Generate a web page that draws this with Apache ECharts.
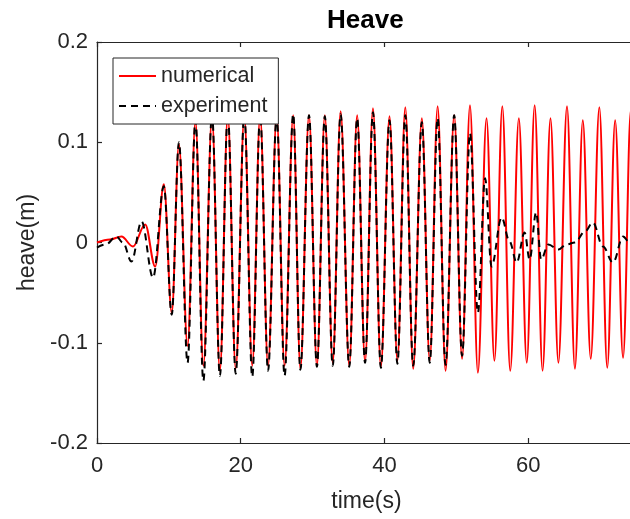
<!DOCTYPE html>
<html>
<head>
<meta charset="utf-8">
<script src="https://cdn.jsdelivr.net/npm/echarts@6/dist/echarts.min.js"></script>
<style>
html,body{margin:0;padding:0;background:#fff;}
#chart{width:630px;height:519px;}
</style>
</head>
<body>
<div id="chart"></div>
<script>
// Numerical (red solid): turning points
const numTime = [0, 1.8, 3.4, 5.0, 6.7, 8.1, 9.3, 10.4, 11.4, 12.6, 13.7, 14.8,
  16.0, 17.1, 18.2, 19.3, 20.5, 21.6, 22.7, 23.8, 25.0, 26.1, 27.3, 28.3, 29.5, 30.6,
  31.7, 32.8, 33.9, 35.1, 36.2, 37.3, 38.4, 39.5, 40.7, 41.8, 42.9, 44.0, 45.2, 46.3,
  47.4, 48.5, 49.7, 50.8, 51.9, 53.0, 54.2, 55.3, 56.4, 57.5, 58.7, 59.8, 60.9, 62.0,
  63.1, 64.2, 65.4, 66.5, 67.6, 68.7, 69.9, 71.0, 72.1, 73.2, 74.3, 75.4];
const numHeave = [0.000, 0.003, 0.006, -0.004, 0.018, -0.024, 0.058, -0.070, 0.098, -0.103, 0.121, -0.123,
  0.125, -0.128, 0.127, -0.126, 0.126, -0.123, 0.127, -0.123, 0.126, -0.123, 0.127, -0.126, 0.127, -0.123,
  0.127, -0.120, 0.131, -0.123, 0.127, -0.119, 0.134, -0.124, 0.126, -0.118, 0.135, -0.126, 0.124, -0.118,
  0.136, -0.128, 0.127, -0.116, 0.137, -0.130, 0.124, -0.118, 0.136, -0.128, 0.124, -0.120, 0.137, -0.128,
  0.124, -0.120, 0.136, -0.126, 0.122, -0.116, 0.135, -0.125, 0.122, -0.115, 0.133, -0.125];

// Experiment (black dashed): turning points
const expTime = [0, 1.2, 2.7, 3.6, 4.8, 6.2, 7.8, 9.3, 10.4, 11.4, 12.6, 13.7, 14.8,
  16.0, 17.1, 18.2, 19.3, 20.5, 21.6, 22.7, 23.8, 25.0, 26.1, 27.3, 28.3, 29.5, 30.6,
  31.7, 32.8, 33.9, 35.1, 36.2, 37.3, 38.4, 39.5, 40.7, 41.8, 42.9, 44.0, 45.2, 46.3,
  47.4, 48.5, 49.7, 50.8, 51.9, 53.0, 54.0, 54.9, 56.3, 57.4, 58.4, 59.5, 60.2, 61.1,
  61.8, 62.8, 64.2, 65.3, 66.5, 67.9, 69.0, 70.4, 71.8, 73.2, 74.1, 75.0];
const expHeave = [-0.005, -0.002, 0.006, 0.000, -0.019, 0.021, -0.035, 0.056, -0.072, 0.100, -0.120, 0.122, -0.138,
  0.128, -0.133, 0.128, -0.131, 0.127, -0.134, 0.127, -0.128, 0.126, -0.133, 0.128, -0.127, 0.127, -0.124,
  0.126, -0.123, 0.128, -0.124, 0.124, -0.120, 0.130, -0.125, 0.122, -0.121, 0.127, -0.123, 0.120, -0.120,
  0.124, -0.122, 0.127, -0.113, 0.109, -0.070, 0.064, -0.024, 0.025, 0.001, -0.020, 0.010, -0.017, 0.030,
  -0.017, -0.002, -0.007, -0.002, 0.000, 0.011, 0.020, -0.004, -0.020, 0.006, 0.000, 0.004];

const xTicks = [0, 20, 40, 60];
const yTicks = [-0.2, -0.1, 0, 0.1, 0.2];

const zip = (a, b) => a.map((t, i) => [t, b[i]]);
const axisCol = '#262626';
const font = 'Liberation Sans, Arial, Helvetica, sans-serif';

const chart = echarts.init(document.getElementById('chart'), null, {renderer: 'canvas'});
chart.setOption({
  animation: false,
  backgroundColor: '#fff',
  textStyle: {fontFamily: font},
  title: {
    text: 'Heave', left: 327, top: 8, padding: 0,
    textStyle: {fontFamily: font, fontWeight: 'bold', fontSize: 26, color: '#000'}
  },
  grid: {left: 97, top: 42, width: 539, height: 401, containLabel: false, outerBoundsMode: 'none'},
  legend: {
    data: ['numerical', 'experiment'],
    orient: 'vertical', left: 113, top: 58,
    padding: [7, 11, 7, 5], itemGap: 8, itemWidth: 37, itemHeight: 20,
    backgroundColor: '#fff', borderColor: axisCol, borderWidth: 1,
    itemStyle: {opacity: 0},
    textStyle: {fontFamily: font, fontSize: 21.5, color: axisCol}
  },
  xAxis: [{
    type: 'value', min: xTicks[0], max: 75, interval: xTicks[1] - xTicks[0],
    name: 'time(s)', nameLocation: 'middle', nameGap: 47,
    nameTextStyle: {fontFamily: font, fontSize: 23, color: axisCol},
    axisLine: {show: true, onZero: false, lineStyle: {color: axisCol, width: 1.2}},
    axisTick: {show: true, inside: true, length: 5, lineStyle: {color: axisCol, width: 1.2}},
    axisLabel: {fontFamily: font, fontSize: 22, color: axisCol, margin: 12,
      formatter: v => xTicks.includes(v) ? String(v) : ''},
    splitLine: {show: false}
  }, {
    type: 'value', position: 'top', min: xTicks[0], max: 75, interval: xTicks[1] - xTicks[0],
    axisLine: {show: true, onZero: false, lineStyle: {color: axisCol, width: 1.2}},
    axisTick: {show: true, inside: true, length: 5, lineStyle: {color: axisCol, width: 1.2}},
    axisLabel: {show: false}, splitLine: {show: false}
  }],
  yAxis: {
    type: 'value', min: yTicks[0], max: yTicks[yTicks.length - 1], interval: 0.1,
    name: 'heave(m)', nameLocation: 'middle', nameGap: 58,
    nameTextStyle: {fontFamily: font, fontSize: 23, color: axisCol},
    axisLine: {show: true, onZero: false, lineStyle: {color: axisCol, width: 1.2}},
    axisTick: {show: true, inside: true, length: 5, lineStyle: {color: axisCol, width: 1.2}},
    axisLabel: {fontFamily: font, fontSize: 22, color: axisCol, margin: 9,
      formatter: v => String(Math.round(v * 10) / 10)},
    splitLine: {show: false}
  },
  series: [{
    name: 'numerical', type: 'line', data: zip(numTime, numHeave),
    showSymbol: false, symbol: 'none', smooth: 0.36, smoothMonotone: 'x',
    lineStyle: {color: '#ff0000', width: 2}, itemStyle: {color: '#ff0000'}
  }, {
    name: 'experiment', type: 'line', data: zip(expTime, expHeave),
    showSymbol: false, symbol: 'none', smooth: 0.36, smoothMonotone: 'x',
    lineStyle: {color: '#000', width: 2, type: [7, 5]}, itemStyle: {color: '#000'}
  }]
});
</script>
</body>
</html>
